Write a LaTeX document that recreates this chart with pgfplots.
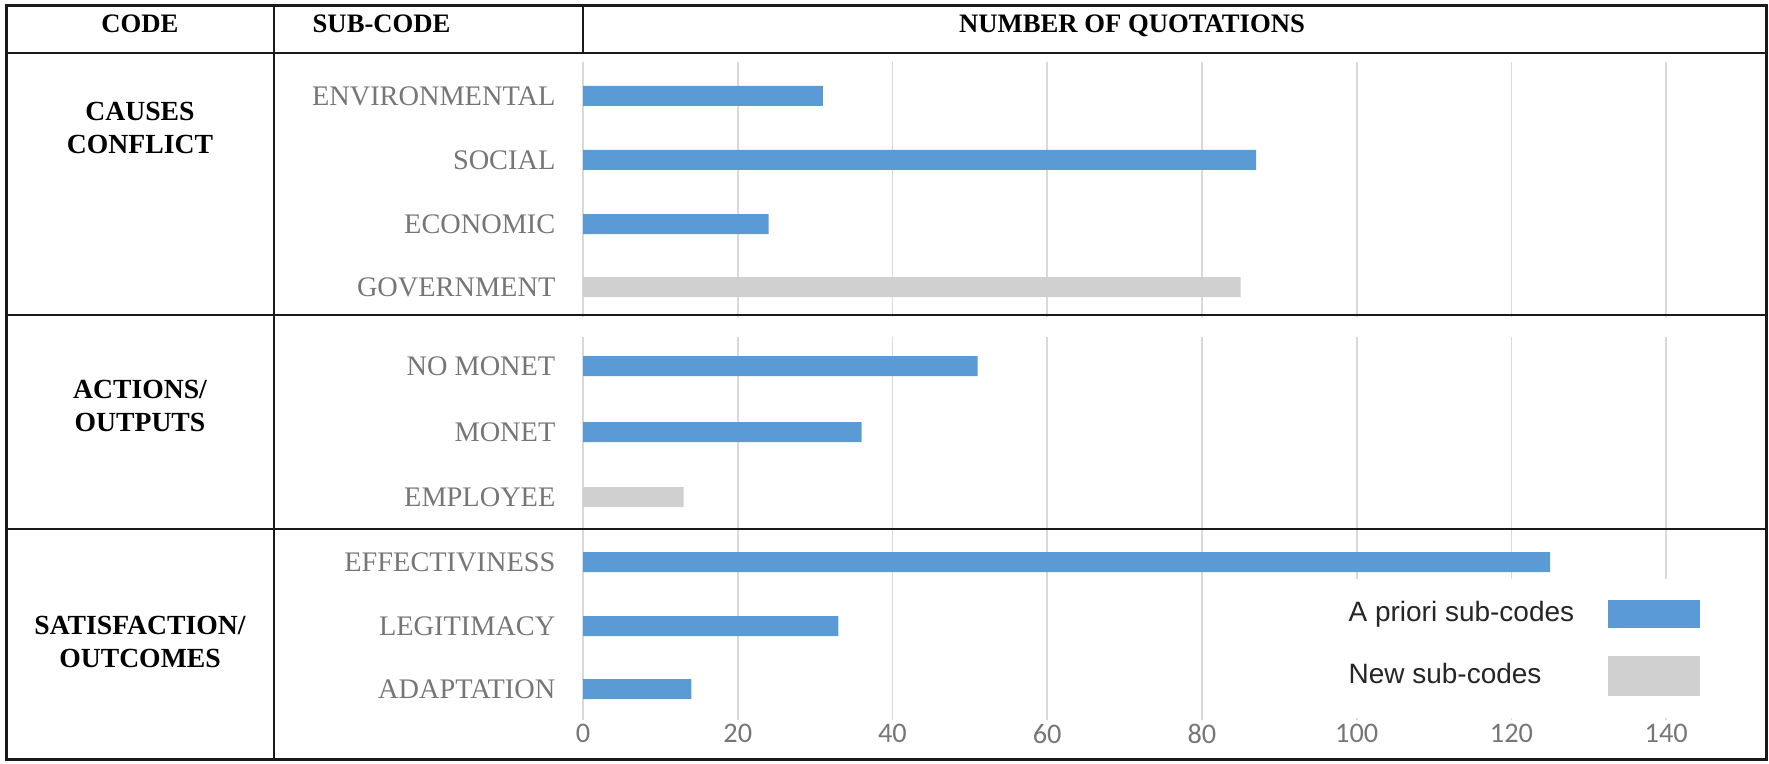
\documentclass[border=0pt]{standalone}
\usepackage{pgfplots}
\pgfplotsset{compat=1.18}
\usepackage{fontspec}
\setmainfont{Liberation Serif}
\newfontfamily\lsans{Liberation Sans}
\newfontfamily\carl{Carlito}
\definecolor{barblue}{HTML}{5B9BD5}
\definecolor{bargray}{HTML}{D0D0D0}
\definecolor{gridgray}{HTML}{D9D9D9}
\definecolor{labgray}{HTML}{767676}
\definecolor{tabline}{HTML}{1A1A1A}
\begin{document}
\begin{tikzpicture}
\useasboundingbox (0,0) rectangle (530.7pt,-229.2pt);
\begin{axis}[
  at={(174.9pt,-18.6pt)}, anchor=north west,
  scale only axis, width=354.9pt, height=197.4pt,
  xmin=0, xmax=152.9, ymin=62, ymax=720, y dir=reverse,
  xbar, bar width=6pt,
  axis line style={draw=none}, tick style={draw=none}, major tick length=0pt,
  xtick={0,20,...,140}, xmajorgrids, grid style={gridgray, line width=0.5pt},
  ytick={96,160,224,287,366,432,497,562,626,689},
  yticklabels={ENVIRONMENTAL,SOCIAL,ECONOMIC,GOVERNMENT,NO MONET,MONET,EMPLOYEE,EFFECTIVINESS,LEGITIMACY,ADAPTATION},
  yticklabel style={font=\fontsize{8.5}{10}\selectfont, text=labgray, inner sep=0pt, anchor=east, xshift=-8.1pt},
  xticklabel style={font=\carl\fontsize{8.5}{10}\selectfont, text=labgray, inner sep=0pt, anchor=north, yshift=-1.1pt},
  /pgf/number format/assume math mode=true,
  legend plot pos=right, legend cell align=left,
  legend style={at={(axis cs:98.0,578)}, anchor=north west, fill=white, draw=none,
    inner xsep=2pt, inner ysep=6.5pt, font=\lsans\fontsize{8.4}{10}\selectfont, text=black!85,
    column sep=10.2pt, row sep=8.4pt, nodes={inner sep=0pt}},
  clip=false,
]
\addplot[fill=barblue, draw=none, bar shift=0pt,
  legend image code/.code={\fill[barblue] (0pt,-4.2pt) rectangle (27.6pt,4.2pt);}]
  coordinates {(31,96) (87,160) (24,224) (51,366) (36,432) (125,562) (33,626) (14,689)};
\addlegendentry{A priori sub-codes}
\addplot[fill=bargray, draw=none, bar shift=0pt,
  legend image code/.code={\fill[bargray] (0pt,-6pt) rectangle (27.6pt,6pt);}]
  coordinates {(85,287) (13,497)};
\addlegendentry{New sub-codes}
\end{axis}
\begin{scope}[x=0.3pt,y=-0.3pt]
\fill[white] (575,317) rectangle (1762,337);
\draw[tabline, line width=0.75pt] (274,6) -- (274,759);
\draw[tabline, line width=0.75pt] (583,6) -- (583,53);
\draw[tabline, line width=0.75pt] (6,53) -- (1766,53);
\draw[tabline, line width=0.75pt] (6,315) -- (1766,315);
\draw[tabline, line width=0.75pt] (6,529) -- (1766,529);
\draw[tabline, line width=0.9pt] (6,6) rectangle (1766,759);
\node[font=\bfseries\fontsize{8}{10}\selectfont, anchor=base, inner sep=0pt] at (140,33) {CODE};
\node[font=\bfseries\fontsize{8}{10}\selectfont, anchor=base west, inner sep=0pt] at (312,33) {SUB-CODE};
\node[font=\bfseries\fontsize{8}{10}\selectfont, anchor=base, inner sep=0pt] at (1132,33) {NUMBER OF QUOTATIONS};
\node[font=\bfseries\fontsize{8.3}{10}\selectfont, align=center, inner sep=0pt] at (140,128) {CAUSES\\CONFLICT};
\node[font=\bfseries\fontsize{8.3}{10}\selectfont, align=center, inner sep=0pt] at (140,406) {ACTIONS/\\OUTPUTS};
\node[font=\bfseries\fontsize{8.3}{10}\selectfont, align=center, inner sep=0pt] at (140,642) {SATISFACTION/\\OUTCOMES};
\end{scope}
\end{tikzpicture}
\end{document}
